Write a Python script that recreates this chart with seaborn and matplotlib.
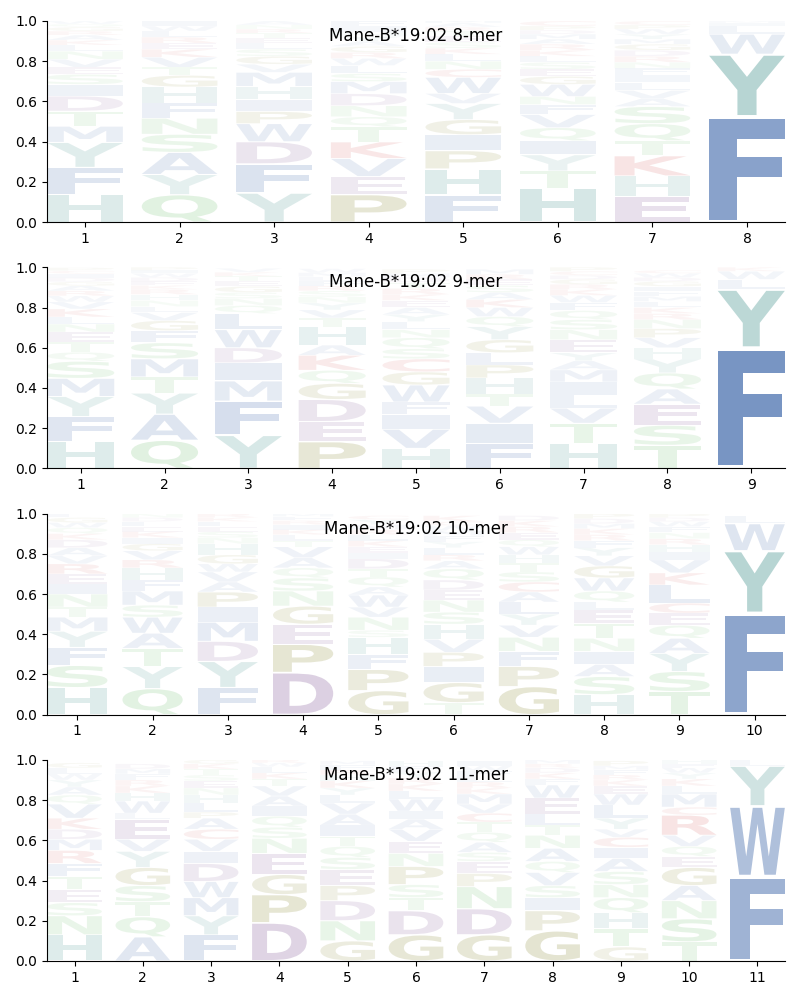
"""Sequence logos for Mane-B*19:02 8- to 11-mer binding motifs."""

import matplotlib

matplotlib.use("Agg")
import matplotlib.pyplot as plt
from matplotlib.font_manager import FontProperties
from matplotlib.patches import PathPatch
from matplotlib.textpath import TextPath
from matplotlib.transforms import Affine2D
import seaborn as sns

ALLELE = "Mane-B*19:02"

# letters per position, bottom -> top, with their probabilities
LETTERS_8 = [
    "HFYMTDISEVNLKARGQW",
    "QYASNFHGTVKERLWI",
    "YFDWPIHMVGSLETRNA",
    "PEVKTQNDMSLWRGAYHIF",
    "FHPIGYVWCNLKSETRAM",
    "HTYIQVFNWGESLKRAMDPC",
    "EHKTQSAVLIFNRDGMYWPC",
    "FYWLIM",
]
HEIGHTS_8 = [
    [.137, .135, .125, .08, .075, .075, .058, .05, .035, .04, .04, .03, .025, .025, .02, .02, .015, .015],
    [.137, .1, .11, .09, .08, .075, .08, .058, .04, .05, .04, .03, .03, .03, .025, .025],
    [.145, .145, .11, .09, .06, .06, .065, .07, .04, .04, .035, .03, .025, .025, .02, .02, .02],
    [.137, .09, .09, .082, .075, .05, .055, .06, .06, .04, .04, .035, .03, .03, .025, .025, .02, .03, .025],
    [.135, .13, .09, .08, .075, .08, .05, .08, .04, .04, .035, .03, .03, .03, .025, .02, .02, .015],
    [.17, .085, .08, .07, .065, .065, .05, .04, .06, .04, .035, .035, .03, .03, .03, .025, .025, .02, .02, .025],
    [.13, .1, .1, .075, .085, .085, .04, .04, .04, .035, .035, .03, .03, .03, .03, .025, .025, .025, .02, .02],
    [.525, .31, .1, .04, .015, .01],
]

LETTERS_9 = [
    "HFYMSQTENLKVWRAGDICP",
    "QAYTMSFGVLNHRKEDWIP",
    "YFMIDWLQNSGETKV",
    "PEDGQKAHTVYNSRFLMW",
    "HVIFWGCSQNLYAEKRTDMP",
    "FIVTHPLGYQWKASERM",
    "HTVLIMAYENSQFWKRGDCP",
    "TSEAQYHVPNRKLMFIGDWC",
    "FYLWK",
]
HEIGHTS_9 = [
    [.133, .125, .1, .09, .085, .045, .05, .05, .04, .035, .04, .035, .03, .025, .025, .02, .02, .02, .015, .015],
    [.14, .13, .105, .08, .09, .08, .06, .05, .04, .03, .03, .03, .025, .02, .02, .02, .02, .015, .015],
    [.165, .17, .1, .09, .075, .09, .08, .04, .035, .03, .03, .025, .025, .02, .02],
    [.133, .1, .11, .08, .065, .075, .05, .09, .045, .04, .035, .03, .03, .025, .025, .02, .02, .02],
    [.1, .095, .075, .06, .085, .065, .065, .05, .055, .04, .04, .035, .035, .035, .03, .03, .03, .025, .02, .02],
    [.125, .1, .085, .06, .08, .065, .06, .065, .065, .05, .045, .04, .035, .035, .03, .025, .025],
    [.125, .1, .075, .065, .065, .06, .045, .04, .065, .05, .05, .045, .04, .035, .03, .025, .025, .02, .02, .02],
    [.115, .1, .105, .075, .08, .07, .055, .05, .045, .045, .03, .03, .03, .025, .025, .025, .025, .02, .02, .015],
    [.6, .29, .05, .04, .02],
]

LETTERS_10 = [
    "HSFYMTNIERVADKQWGL",
    "QYTAWSMFHRVGIKELDN",
    "FYDMIPAVWGHNSELKR",
    "DPEGNSQAVTLKIRFM",
    "GPFHSNVWAQTDIEKLRMYC",
    "TGIPVHSNEDQARLYFMWCK",
    "GPFNVYLACSTHWQERKD",
    "HSAINTELQWGVYFRKMDP",
    "TSYAQECLKVIHRNFWDP",
    "FYWL",
]
HEIGHTS_10 = [
    [.135, .11, .09, .08, .07, .05, .065, .05, .05, .05, .04, .04, .04, .03, .03, .025, .025, .02],
    [.13, .11, .09, .075, .08, .06, .07, .055, .06, .04, .045, .035, .03, .03, .025, .025, .02, .02],
    [.135, .13, .1, .095, .075, .075, .05, .05, .04, .045, .055, .03, .03, .025, .025, .02, .02],
    [.21, .14, .1, .09, .075, .065, .05, .05, .055, .03, .03, .025, .025, .02, .02, .015],
    [.12, .105, .075, .085, .035, .065, .05, .06, .04, .05, .04, .05, .03, .03, .03, .03, .025, .025, .025, .02],
    [.06, .1, .08, .07, .065, .075, .06, .06, .05, .05, .055, .04, .03, .035, .03, .03, .025, .025, .02, .03],
    [.14, .1, .075, .07, .06, .055, .06, .05, .05, .05, .045, .04, .04, .035, .035, .03, .03, .025],
    [.1, .09, .06, .065, .065, .075, .065, .04, .055, .065, .06, .05, .04, .035, .03, .03, .025, .025, .025],
    [.115, .1, .09, .075, .065, .06, .05, .09, .06, .065, .04, .035, .03, .03, .03, .025, .02, .02],
    [.505, .31, .135, .04],
]

LETTERS_11 = [
    "HNSETFRMDKVQAYWLG",
    "AQTSGYVELWHKRFMD",
    "FYMWDIVCAPLHNESTKG",
    "DPGENSQIAVTKLWR",
    "GNDPESQTIAVLYKHRFM",
    "GDTSPNEVAIWLKRYFH",
    "GDNPESAQTCVMKRLFWI",
    "GPISVQANTLEWFKDRM",
    "GTHQNSAICVYLWEKRFMP",
    "TSNAGEQVRCMLKYWFH",
    "FWYL",
]
HEIGHTS_11 = [
    [.13, .095, .065, .065, .065, .065, .065, .055, .05, .055, .07, .045, .04, .035, .03, .03, .025],
    [.12, .1, .075, .08, .09, .08, .06, .1, .03, .06, .04, .035, .03, .03, .025, .025],
    [.13, .095, .09, .08, .09, .06, .06, .05, .055, .03, .045, .04, .035, .035, .03, .03, .025, .02],
    [.19, .14, .1, .105, .075, .055, .055, .05, .05, .05, .035, .03, .03, .02, .015],
    [.1, .1, .1, .075, .08, .06, .055, .05, .055, .055, .055, .04, .035, .035, .03, .025, .025, .02],
    [.13, .12, .065, .065, .09, .065, .06, .06, .05, .04, .06, .04, .035, .03, .03, .03, .025],
    [.13, .13, .11, .065, .06, .045, .05, .05, .05, .045, .045, .05, .03, .03, .03, .025, .025, .025],
    [.15, .1, .065, .06, .065, .055, .065, .065, .05, .055, .08, .065, .03, .03, .025, .02, .02],
    [.07, .09, .08, .075, .065, .065, .065, .055, .05, .04, .055, .065, .055, .04, .03, .025, .025, .02, .025],
    [.095, .115, .09, .075, .09, .055, .05, .055, .1, .04, .065, .04, .035, .03, .025, .02, .02],
    [.42, .35, .2, .03],
]

MOTIFS = [
    ("8-mer", LETTERS_8, HEIGHTS_8),
    ("9-mer", LETTERS_9, HEIGHTS_9),
    ("10-mer", LETTERS_10, HEIGHTS_10),
    ("11-mer", LETTERS_11, HEIGHTS_11),
]

# residue groups -> colour
deep = sns.color_palette("deep")
GROUP_COLORS = {
    "AVLIMFW": deep[0],
    "HY": "#4d9893",
    "DE": "#805596",
    "PG": "#7d7d1e",
    "NQST": "#63ba63",
    "KRC": "#ce4141",
}
AA_COLOR = {aa: col for group, col in GROUP_COLORS.items() for aa in group}

sns.set_style("ticks", {"axes.edgecolor": "black", "xtick.color": "black",
                        "ytick.color": "black", "text.color": "black"})
plt.rcParams["font.family"] = ["DejaVu Sans"]

GLYPH_FONT = FontProperties(family="DejaVu Sans", weight="bold")
_paths = {}


def draw_glyph(ax, ch, x, floor, height, width=0.8, vpad=0.05):
    if ch not in _paths:
        _paths[ch] = TextPath((0, 0), ch, size=1, prop=GLYPH_FONT)
    path = _paths[ch]
    ext = path.get_extents()
    h = height * (1 - vpad)
    tr = (Affine2D()
          .translate(-ext.x0, -ext.y0)
          .scale(width / ext.width, h / ext.height)
          .translate(x - width / 2, floor + height * vpad / 2))
    # more probable residues are drawn more opaque
    alpha = min(1.0, 0.02 + 1.22 * height)
    ax.add_patch(PathPatch(tr.transform_path(path), facecolor=AA_COLOR[ch],
                           edgecolor="none", alpha=alpha, zorder=2))


fig, axes = plt.subplots(4, 1, figsize=(8, 10), dpi=100)
fig.subplots_adjust(left=0.059, right=0.981, top=0.979, bottom=0.039, hspace=0.224)

for ax, (name, letters, heights) in zip(axes, MOTIFS):
    n = len(letters)
    for pos, (col_letters, col_heights) in enumerate(zip(letters, heights), start=1):
        floor = 0.0
        for ch, h in zip(col_letters, col_heights):
            draw_glyph(ax, ch, pos, floor, h)
            floor += h
    ax.set_xlim(0.6, n + 0.4)
    ax.set_ylim(0, 1)
    ax.set_xticks(range(1, n + 1))
    ax.set_yticks([0, 0.2, 0.4, 0.6, 0.8, 1.0])
    ax.tick_params(labelsize=10)
    ax.text(0.5, 0.925, f"{ALLELE} {name}", transform=ax.transAxes,
            ha="center", va="center", fontsize=12, zorder=5)
    sns.despine(ax=ax)

fig.savefig("out.png", dpi=100)
plt.close(fig)
